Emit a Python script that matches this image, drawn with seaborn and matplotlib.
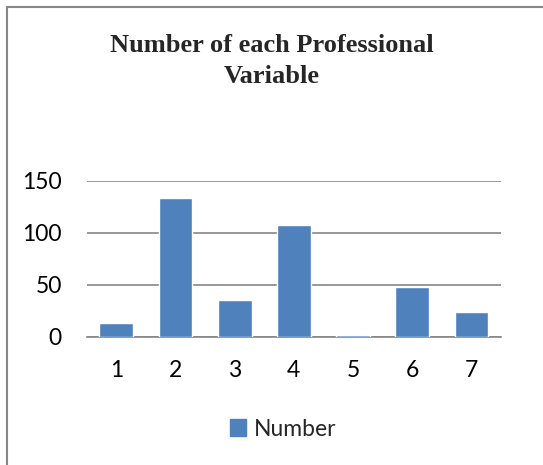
import matplotlib
matplotlib.use("Agg")
import matplotlib.pyplot as plt
import matplotlib.patches as mpatches
import seaborn as sns
import pandas as pd

categories = ["1", "2", "3", "4", "5", "6", "7"]
counts = [13, 134, 35, 108, 2, 48, 24]
y_ticks = [0, 50, 100, 150]
title_text = "Number of each Professional\nVariable"
series_name = "Number"

bar_color = "#4F81BD"
grid_color = "#868686"

sns.set_theme(style="white")
plt.rcParams["font.family"] = ["Lato", "DejaVu Sans"]

df = pd.DataFrame({"category": categories, "value": counts})

fig = plt.figure(figsize=(5.43, 4.65), dpi=100)
ax = fig.add_axes([86.7 / 543, 1 - 336.7 / 465, (501 - 86.7) / 543, (336.7 - 181) / 465])

sns.barplot(data=df, x="category", y="value", color=bar_color, width=0.57,
            saturation=1, ax=ax, zorder=3)

ax.set_ylim(0, 150)
ax.set_xlim(-0.5, len(categories) - 0.5)
ax.set_yticks(y_ticks)
ax.set_yticklabels([str(t) for t in y_ticks])
ax.yaxis.grid(True, color=grid_color, linewidth=1.2, zorder=0)
ax.set_axisbelow(True)
for side in ["top", "right", "left"]:
    ax.spines[side].set_visible(False)
ax.spines["bottom"].set_color(grid_color)
ax.spines["bottom"].set_linewidth(1.2)
ax.spines["bottom"].set_zorder(2)
ax.tick_params(axis="both", length=0, labelsize=16.5, colors="#000000")
ax.tick_params(axis="y", pad=18)
ax.tick_params(axis="x", pad=17)
ax.set_xlabel("")
ax.set_ylabel("")

fig.text(0.5, 1 - 61 / 465, title_text, ha="center", va="center",
         fontsize=19, fontweight="bold", family=["Liberation Serif", "DejaVu Serif"],
         linespacing=1.4)

handle = mpatches.Patch(color=bar_color, label=series_name)
fig.legend(handles=[handle], loc="center", bbox_to_anchor=(283 / 543, 1 - 429 / 465),
           frameon=False, fontsize=16.5, handlelength=0.7, handleheight=0.7,
           handletextpad=0.35)

# chart frame, open at the right and bottom
frame = mpatches.Rectangle((7 / 543, -0.1), 1.2, 1 - 7 / 465 + 0.1,
                           transform=fig.transFigure, fill=False,
                           edgecolor=grid_color, linewidth=1.5)
fig.patches.append(frame)

fig.savefig("out.png", dpi=100)
